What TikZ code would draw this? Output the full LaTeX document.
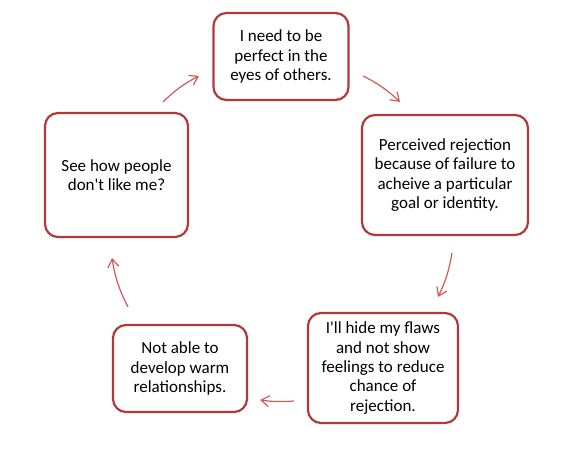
\documentclass[tikz,border=0pt]{standalone}
\usepackage{fontspec}
\setmainfont{Carlito}[Ligatures=TeXOff]
\usetikzlibrary{arrows.meta, positioning}
\definecolor{cborder}{HTML}{B03A3A}
\definecolor{carrow}{HTML}{D05A58}
\tikzset{
  every picture/.style={line width=1.2pt},
  box/.style={draw=cborder, fill=white, line width=2.2pt, rounded corners=13pt, align=center,
    inner sep=0pt, font=\fontsize{17}{19.3}\selectfont},
  arrow/.style={-{Straight Barb[length=8pt, width=11pt]}, draw=carrow, line width=1.2pt},
}

\begin{document}
\begin{tikzpicture}[x=1pt, y=1pt]
  \useasboundingbox (0,0) rectangle (575,455);
  \node[box, minimum width=135pt, minimum height=87pt] (perfect) at (281,398.5) {I need to be\\perfect in the\\eyes of others.};
  \node[box, minimum width=166pt, minimum height=120pt] (rejection) at (445,280) {Perceived rejection\\because of failure to\\acheive a particular\\goal or identity.};
  \node[box, minimum width=150pt, minimum height=110pt] (hide) at (383,87) {I'll hide my flaws\\and not show\\feelings to reduce\\chance of\\rejection.};
  \node[box, minimum width=134pt, minimum height=87pt] (warm) at (180,86.5) {Not able to\\develop warm\\relationships.};
  \node[box, minimum width=143pt, minimum height=124pt] (dislike) at (116.5,280) {See how people\\don't like me?};
  % the cycle
  \draw[arrow] ([shift={(13.5,-19.5)}]perfect.east) to[bend left=8] ([shift={(-45,12)}]rejection.north);
  \draw[arrow] ([shift={(7,-17)}]rejection.south) to[bend left=8] ([shift={(55,15)}]hide.north);
  \draw[arrow] ([shift={(-13,-33)}]hide.west) to[bend left=6] ([shift={(12,-31.5)}]warm.east);
  \draw[arrow] ([shift={(-52,17)}]warm.north) to[bend left=9] ([shift={(-4.5,-20)}]dislike.south);
  \draw[arrow] ([shift={(46.5,10)}]dislike.north) to[bend left=8] ([shift={(-13.5,-19.5)}]perfect.west);
\end{tikzpicture}
\end{document}
